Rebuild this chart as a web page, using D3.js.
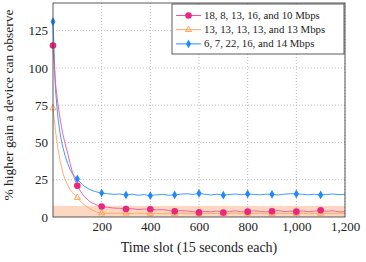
<!DOCTYPE html>
<html>
<head>
<meta charset="utf-8">
<script src="https://cdn.jsdelivr.net/npm/d3@7"></script>
<style>
  body { margin: 0; background: #fff; }
  text { font-family: "Liberation Serif", serif; fill: #222; }
</style>
</head>
<body>
<svg id="chart" width="366" height="262"></svg>
<script>
// time slots (x) - every 10 early on, every 25 afterwards
var slots = [0,10,20,30,40,50,60,70,80,90,100,110,120,130,140,150,160,170,180,190,200,
  225,250,275,300,325,350,375,400,425,450,475,500,525,550,575,600,625,650,675,700,
  725,750,775,800,825,850,875,900,925,950,975,1000,1025,1050,1075,1100,1125,1150,1175,1200];

var pinkVals = [115,90,76,65,56,49,43,36,30,25,21,18,15.5,13.5,12,10.5,9.5,8.8,8,7.5,7,
  6.5,6,5.8,5.4,5.6,5,5.3,5.2,4.8,5,4.4,3.8,4.3,4,3.6,3.1,3.8,3.5,4,3,
  3.7,4.1,3.5,3.6,4.2,3.8,3.4,3.8,4.4,3.6,3.9,3.6,4.1,3.5,4,4.5,3.8,4.2,3.4,3.6];

var orangeVals = [73,58,46,37,30,25,21.5,18.5,16.5,14.5,13,11,9.5,8,6.8,5.8,4.8,4,3.4,2.9,2.6,
  2.5,2.4,2.6,2.5,2.3,2.6,2.4,2.3,2.5,2.2,2.4,2.3,2.5,2.2,2.4,2.2,2.5,2.3,2.4,2.2,
  2.4,2.5,2.2,2.4,2.3,2.5,2.2,2.3,2.5,2.2,2.4,2.3,2.5,2.2,2.4,2.3,2.4,2.2,2.5,2.3];

var blueVals = [131,86,67,55,47,41,36,32,29,27,25.5,23.5,22,20.5,19.5,18.5,17.8,17.2,16.8,16.4,16.1,
  15.6,15.2,15.4,14.8,15.3,14.6,15,14.3,14.9,15.2,14.6,14.8,15.3,15.6,15.1,15.9,15.2,14.8,15.3,14.6,
  15.1,15.4,15,15.5,15.1,14.9,15.3,15.2,14.8,15.3,15.6,15.5,15.2,14.9,15.3,14.8,15.1,15.4,15,15.2];

var seriesNames = ["18, 8, 13, 16, and 10 Mbps", "13, 13, 13, 13, and 13 Mbps", "6, 7, 22, 16, and 14 Mbps"];
var xTicks = [200, 400, 600, 800, 1000, 1200];
var yTicks = [0, 25, 50, 75, 100, 125];
var bandTop = 7.5;

var margin = {top: 3, right: 21, bottom: 45, left: 53},
    width = 366 - margin.left - margin.right,
    height = 262 - margin.top - margin.bottom;

var svg = d3.select("#chart");
var g = svg.append("g").attr("transform", "translate(" + margin.left + "," + margin.top + ")");

var x = d3.scaleLinear().domain([0, 1200]).range([0, width]);
var y = d3.scaleLinear().domain([0, 143.5]).range([height, 0]);

// shaded band
g.append("rect")
  .attr("x", 0).attr("width", width)
  .attr("y", y(bandTop)).attr("height", y(0) - y(bandTop))
  .attr("fill", "#fcd8c2");

// grid
g.append("g").selectAll("line").data(xTicks).join("line")
  .attr("x1", d => x(d)).attr("x2", d => x(d)).attr("y1", 0).attr("y2", height)
  .attr("stroke", "#bbb").attr("stroke-dasharray", "1,2");
g.append("g").selectAll("line").data(yTicks.slice(1)).join("line")
  .attr("x1", 0).attr("x2", width).attr("y1", d => y(d)).attr("y2", d => y(d))
  .attr("stroke", "#bbb").attr("stroke-dasharray", "1,2");

// axes
var xAxis = d3.axisBottom(x).tickValues(xTicks).tickSize(0).tickPadding(5)
  .tickFormat(d3.format(","));
var yAxis = d3.axisLeft(y).tickValues(yTicks).tickSize(0).tickPadding(5);

g.append("g").attr("transform", "translate(0," + height + ")").call(xAxis)
  .call(a => a.select(".domain").remove())
  .selectAll("text").style("font-size", "13px").style("font-family", "Liberation Serif").attr("fill", "#222");
g.append("g").call(yAxis)
  .call(a => a.select(".domain").remove())
  .selectAll("text").style("font-size", "13px").style("font-family", "Liberation Serif").attr("fill", "#222");

var series = [
  {name: seriesNames[0], vals: pinkVals, line: "#f2559c", mark: "#e8287e", shape: "circle"},
  {name: seriesNames[1], vals: orangeVals, line: "#ffa55e", mark: "#ff9a4d", shape: "triangle"},
  {name: seriesNames[2], vals: blueVals, line: "#2a8fff", mark: "#1f87ff", shape: "diamond"}
];

var line = d3.line()
  .x((d, i) => x(slots[i]))
  .y(d => y(d));

function drawMark(sel, s) {
  if (s.shape === "circle") {
    sel.append("circle").attr("r", 3.3).attr("fill", s.mark);
  } else if (s.shape === "triangle") {
    sel.append("path").attr("d", d3.symbol().type(d3.symbolTriangle).size(16)())
      .attr("fill", "none").attr("stroke", s.mark).attr("stroke-width", 0.9);
  } else {
    sel.append("path").attr("d", d3.symbol().type(d3.symbolDiamond).size(22)())
      .attr("fill", s.mark);
  }
}

// draw blue first, then orange, then pink on top
[series[2], series[1], series[0]].forEach(function(s) {
  g.append("path").datum(s.vals)
    .attr("fill", "none").attr("stroke", s.line).attr("stroke-width", 0.9)
    .attr("d", line);
  var pts = slots.map((t, i) => ({t: t, v: s.vals[i]})).filter(p => p.t % 100 === 0 && p.t < 1200);
  g.append("g").selectAll("g").data(pts).join("g")
    .attr("transform", p => "translate(" + x(p.t) + "," + y(p.v) + ")")
    .each(function() { drawMark(d3.select(this), s); });
});

// frame
g.append("rect").attr("width", width).attr("height", height)
  .attr("fill", "none").attr("stroke", "#333").attr("stroke-width", 0.8);

// legend
var lg = svg.append("g").attr("transform", "translate(172,4)");
lg.append("rect").attr("width", 172).attr("height", 50)
  .attr("fill", "#fff").attr("stroke", "#333").attr("stroke-width", 0.8);
series.forEach(function(s, i) {
  var row = lg.append("g").attr("transform", "translate(0," + (11.5 + i * 14.2) + ")");
  row.append("line").attr("x1", 4).attr("x2", 29).attr("stroke", s.line).attr("stroke-width", 1);
  drawMark(row.append("g").attr("transform", "translate(16.5,0)"), s);
  row.append("text").attr("x", 32).attr("dy", "0.33em").style("font-size", "10.8px").text(s.name);
});

// axis titles
svg.append("text").attr("x", margin.left + width / 2).attr("y", 252)
  .attr("text-anchor", "middle").style("font-size", "14px").text("Time slot (15 seconds each)");
svg.append("text").attr("transform", "translate(13," + (margin.top + 102) + ") rotate(-90)")
  .attr("text-anchor", "middle").style("font-size", "13.5px").text("% higher gain a device can observe");
</script>
</body>
</html>
